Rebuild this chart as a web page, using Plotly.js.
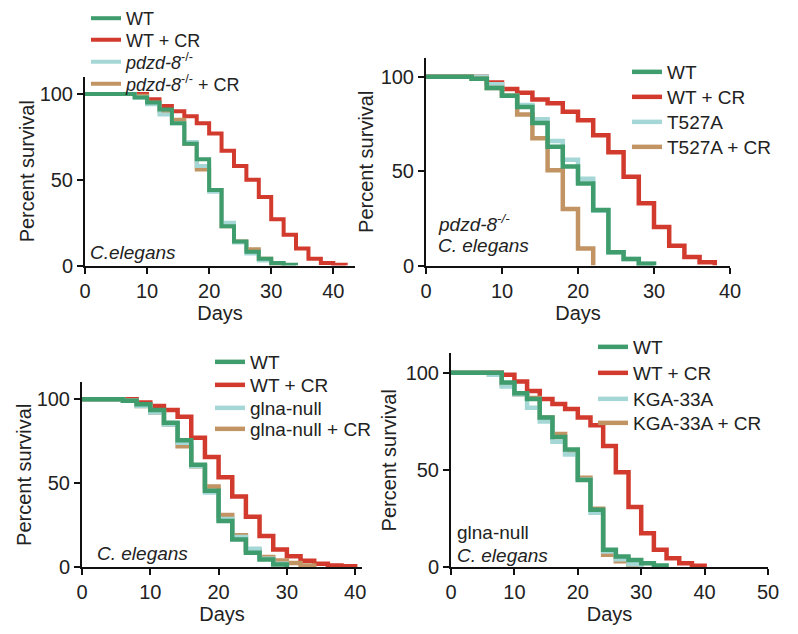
<!DOCTYPE html>
<html>
<head>
<meta charset="utf-8">
<script src="https://cdn.plot.ly/plotly-3.0.1.min.js"></script>
<style>html,body{margin:0;padding:0;background:#fff;}#chart{width:798px;height:634px;}</style>
</head>
<body>
<div id="chart"></div>
<script>
// ---------- Panel A (pdzd-8) ----------
const a_wt_days    = [0,8,10,12,14,16,18,20,22,24,26,28,30,32,34];
const a_wt_vals    = [100,98,95,91,83,71,62,44,23,14,8,4,1.5,0.5,0];
const a_wtcr_days  = [0,10,12,14,16,18,20,22,24,26,28,30,32,34,36,38,40,42];
const a_wtcr_vals  = [100,97,93,90,87,83,77,67,58,50,40,27,18,10,4,1.5,0.5,0];
const a_mut_days   = [0,8,10,12,14,16,18,20,22,24,26,28,30,32];
const a_mut_vals   = [100,98,94,88,83,72,58,43,25,13.5,7,3,1,0];
const a_mutcr_days = [0,8,10,12,14,16,18,20,22,24,26,28,30,32];
const a_mutcr_vals = [100,99,95,90,85,71,56,44,23,14,9.5,4,1,0];
const a_names = ["WT","WT + CR","<i>pdzd-8</i><sup>-/-</sup>","<i>pdzd-8</i><sup>-/-</sup> + CR"];

// ---------- Panel B (T527A) ----------
const b_wt_days    = [0,6,8,10,12,14,16,18,20,22,24,26,28,30];
const b_wt_vals    = [100,99,94,90,84,75.5,63,52.5,43.5,29.5,7,3.5,1,0];
const b_wtcr_days  = [0,8,10,12,14,16,18,20,22,24,26,28,30,32,34,36,38];
const b_wtcr_vals  = [100,97,93.5,91.5,88,86,81.5,77,69,60,47,33,20.5,10.5,4.5,1.8,0];
const b_mut_days   = [0,8,10,12,14,16,18,20,22,24,26,28,30];
const b_mut_vals   = [100,96,90,85,77.5,66,56,46,29,7,3.5,1,0];
const b_mutcr_days = [0,6,8,10,12,14,16,18,20,22];
const b_mutcr_vals = [100,99,94,90,80,67.5,50.5,30,9,0];
const b_names = ["WT","WT + CR","T527A","T527A + CR"];

// ---------- Panel C (glna-null) ----------
const c_wt_days    = [0,6,8,10,12,14,16,18,20,22,24,26,28,30];
const c_wt_vals    = [100,99,97,93.5,86,75.5,61,45.5,27.5,16.5,8.5,4.5,1.5,0];
const c_wtcr_days  = [0,8,10,12,14,16,18,20,22,24,26,28,30,32,34,36,38,40];
const c_wtcr_vals  = [100,98,96,93.5,89.5,77,65.5,53.5,42,30,18.5,10.5,6.5,3.8,2,1,0.5,0];
const c_mut_days   = [0,6,8,10,12,14,16,18,20,22,24,26,28,30];
const c_mut_vals   = [100,99,96,92,85,74,60,44.5,28.7,18,11,5,2,0];
const c_mutcr_days = [0,6,8,10,12,14,16,18,20,22,24,26,28,30,32,34];
const c_mutcr_vals = [100,99,96,92,85,72,60,48,31,19,10,6,4,2.5,1,0];
const c_names = ["WT","WT + CR","glna-null","glna-null + CR"];

// ---------- Panel D (KGA-33A) ----------
const d_wt_days    = [0,8,10,12,14,16,18,20,22,24,26,28,30,32,34];
const d_wt_vals    = [100,95,89.5,86.5,77,67,60.5,44.8,29.5,8.9,5.4,3.7,2,0.8,0];
const d_wtcr_days  = [0,8,10,12,14,16,18,20,22,24,26,28,30,32,34,36,38,40];
const d_wtcr_vals  = [100,99,95.5,90.7,86.5,84,81.4,77,73,62.4,48.8,31,17.4,8.9,4.6,2,0.7,0];
const d_mut_days   = [0,6,8,10,12,14,16,18,20,22,24,26,28,30];
const d_mut_vals   = [100,99,93,89,82,75,64.5,58,45,28,8,4,1.5,0];
const d_mutcr_days = [0,6,8,10,12,14,16,18,20,22,24,26,28,30];
const d_mutcr_vals = [100,99,94,89,87,77,68.5,58.5,46,30,6.3,3,0.5,0];
const d_names = ["WT","WT + CR","KGA-33A","KGA-33A + CR"];

const yTicks = [0,50,100];

const COL = {wt:"#3f9c6d", wtcr:"#d13a2d", mut:"#a5d7d6", mutcr:"#c29464"};
const FONT = "Arial, 'Liberation Sans', sans-serif";

function legId(n) { return n === 1 ? "legend" : "legend" + n; }

function panel(ax, lw, names, wtD, wtV, crD, crV, mD, mV, mcD, mcV, order) {
  const defs = {
    wt:    {x: wtD, y: wtV, name: names[0], color: COL.wt, rank: 1},
    wtcr:  {x: crD, y: crV, name: names[1], color: COL.wtcr, rank: 2},
    mut:   {x: mD,  y: mV,  name: names[2], color: COL.mut, rank: 3},
    mutcr: {x: mcD, y: mcV, name: names[3], color: COL.mutcr, rank: 4}
  };
  return order.map(k => {
    const d = defs[k];
    return {
      type: "scatter", mode: "lines", x: d.x, y: d.y, name: d.name,
      line: {shape: "hv", color: d.color, width: lw},
      xaxis: "x" + (ax === 1 ? "" : ax), yaxis: "y" + (ax === 1 ? "" : ax),
      legend: legId((ax - 1) * 4 + d.rank), showlegend: true, hoverinfo: "skip"
    };
  });
}

const data = [].concat(
  panel(1, 4,   a_names, a_wt_days, a_wt_vals, a_wtcr_days, a_wtcr_vals, a_mut_days, a_mut_vals, a_mutcr_days, a_mutcr_vals, ["wtcr","mutcr","mut","wt"]),
  panel(2, 4.5, b_names, b_wt_days, b_wt_vals, b_wtcr_days, b_wtcr_vals, b_mut_days, b_mut_vals, b_mutcr_days, b_mutcr_vals, ["wtcr","mut","mutcr","wt"]),
  panel(3, 4.5, c_names, c_wt_days, c_wt_vals, c_wtcr_days, c_wtcr_vals, c_mut_days, c_mut_vals, c_mutcr_days, c_mutcr_vals, ["wtcr","mutcr","mut","wt"]),
  panel(4, 4.5, d_names, d_wt_days, d_wt_vals, d_wtcr_days, d_wtcr_vals, d_mut_days, d_mut_vals, d_mutcr_days, d_mutcr_vals, ["wtcr","mutcr","mut","wt"])
);

const W = 798, H = 634;
function xax(l, r, range, anchor) {
  return {domain: [l / W, r / W], range: range, anchor: anchor, dtick: 10, tick0: 0,
    showline: true, linecolor: "#111", linewidth: 2, ticks: "outside", ticklen: 6, tickwidth: 2, tickcolor: "#111",
    showgrid: false, zeroline: false, tickfont: {size: 20, color: "#222", family: FONT},
    title: {text: "Days", font: {size: 20, color: "#222", family: FONT}, standoff: 0}, fixedrange: true};
}
function yax(top, bottom, anchor, standoff) {
  return {domain: [(H - bottom) / H, (H - top) / H], range: [0, 110], anchor: anchor, tickvals: yTicks,
    showline: true, linecolor: "#111", linewidth: 2, ticks: "outside", ticklen: 6, tickwidth: 2, tickcolor: "#111",
    showgrid: false, zeroline: false, tickfont: {size: 20, color: "#222", family: FONT},
    title: {text: "Percent survival", font: {size: 20, color: "#222", family: FONT}, standoff: standoff}, fixedrange: true};
}
function ann(xpx, ypx, text, italic) {
  return {xref: "paper", yref: "paper", x: xpx / W, y: 1 - ypx / H, xanchor: "left", yanchor: "middle",
    text: italic ? "<i>" + text + "</i>" : text, showarrow: false,
    font: {size: 19, color: "#222", family: FONT}};
}

const layout = {
  width: W, height: H, margin: {l: 0, r: 0, t: 0, b: 0},
  paper_bgcolor: "#fff", plot_bgcolor: "rgba(0,0,0,0)",
  font: {family: FONT, color: "#222"},
  xaxis:  xax(85, 355, [0, 43.5], "y"),
  yaxis:  yax(76, 265, "x", 0),
  xaxis2: xax(426, 730, [0, 40], "y2"),
  yaxis2: yax(57, 265, "x2", 2),
  xaxis3: xax(82, 362, [0, 41], "y3"),
  yaxis3: yax(382, 567, "x3", 0),
  xaxis4: xax(451, 768, [0, 50], "y4"),
  yaxis4: yax(353, 567, "x4", 4),
  annotations: [
    ann(88, 252, "C.elegans", true),
    ann(436, 222, "pdzd-8<sup>-/-</sup>", true),
    ann(436, 245, "C. elegans", true),
    ann(95, 553, "C. elegans", true),
    ann(455, 532, "glna-null", false),
    ann(455, 555, "C. elegans", true)
  ]
};

// one legend box per entry, placed where each entry sits in the figure
const legendText = [126, 667, 250, 633];               // text left edge per panel (px)
const legendFont = [18, 19, 19, 19];
const legendRows = [[18,40,62,84],[72,97,122,147],[362,385,408,429],[347,373,399,423]];
for (let p = 0; p < 4; p++) {
  for (let r = 0; r < 4; r++) {
    layout[legId(p * 4 + r + 1)] = {
      x: (legendText[p] - 40) / W, y: 1 - legendRows[p][r] / H, xanchor: "left", yanchor: "middle",
      bgcolor: "rgba(0,0,0,0)", font: {size: legendFont[p], color: "#222", family: FONT}, itemwidth: 30
    };
  }
}

Plotly.newPlot("chart", data, layout, {displayModeBar: false, staticPlot: true});
</script>
</body>
</html>
